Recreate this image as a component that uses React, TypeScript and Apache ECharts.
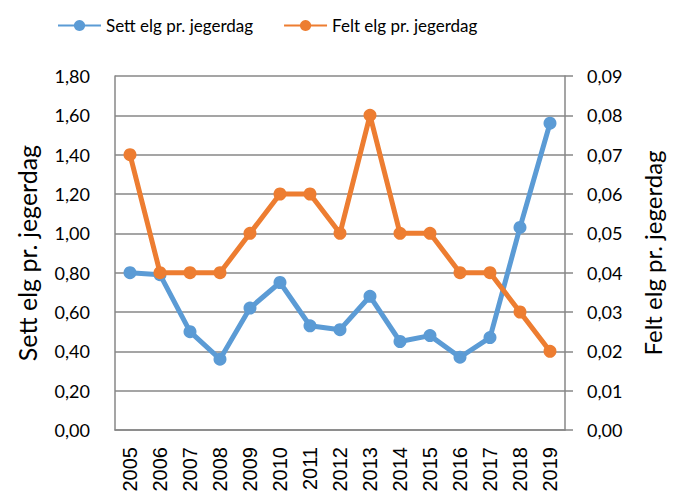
import React, { useEffect, useRef } from "react";
import * as echarts from "echarts";

const years = ["2005","2006","2007","2008","2009","2010","2011","2012","2013","2014","2015","2016","2017","2018","2019"];
const sett = [0.8, 0.79, 0.5, 0.36, 0.62, 0.75, 0.53, 0.51, 0.68, 0.45, 0.48, 0.37, 0.47, 1.03, 1.56];
const felt = [0.07, 0.04, 0.04, 0.04, 0.05, 0.06, 0.06, 0.05, 0.08, 0.05, 0.05, 0.04, 0.04, 0.03, 0.02];
const settName = "Sett elg pr. jegerdag";
const feltName = "Felt elg pr. jegerdag";

const FONT = "Lato";
const XFONT = "'Liberation Sans', Arial, sans-serif";
const GRID = "#878787";

export default function App() {
  const ref = useRef<HTMLDivElement>(null);
  useEffect(() => {
    if (!ref.current) return;
    const chart = echarts.init(ref.current, undefined, { renderer: "svg" });
    chart.setOption({
      animation: false,
      textStyle: { fontFamily: FONT, color: "#000" },
      legend: {
        top: 12,
        left: 52,
        itemWidth: 43,
        itemHeight: 14,
        itemGap: 30,
        textStyle: { fontFamily: FONT, fontSize: 17, color: "#000" },
        data: [settName, feltName],
      },
      grid: { left: 115, right: 108, top: 76, bottom: 67, containLabel: false },
      xAxis: {
        type: "category",
        data: years,
        boundaryGap: true,
        axisLine: { lineStyle: { color: GRID, width: 1.5 } },
        axisTick: { show: false },
        axisLabel: { rotate: 90, fontSize: 20, color: "#000", fontFamily: XFONT, margin: 17 },
      },
      yAxis: [
        {
          type: "value",
          min: 0,
          max: 1.8,
          interval: 0.2,
          name: settName,
          nameLocation: "middle",
          nameGap: 76,
          nameTextStyle: { fontSize: 25, color: "#000", fontFamily: FONT },
          axisLine: { show: true, lineStyle: { color: GRID, width: 1.5 } },
          axisTick: { show: false },
          splitLine: { show: true, lineStyle: { color: GRID, width: 1.5 } },
          axisLabel: {
            fontSize: 18,
            color: "#000",
            fontFamily: FONT,
            margin: 25,
            formatter: (v: number) => v.toFixed(2).replace(".", ","),
          },
        },
        {
          type: "value",
          min: 0,
          max: 0.09,
          interval: 0.01,
          name: feltName,
          nameLocation: "middle",
          nameGap: 75,
          nameTextStyle: { fontSize: 24, color: "#000", fontFamily: FONT },
          position: "right",
          axisLine: { show: true, lineStyle: { color: GRID, width: 1.5 } },
          axisTick: { show: true, length: 8, lineStyle: { color: GRID, width: 1.5 } },
          splitLine: { show: false },
          axisLabel: {
            fontSize: 18,
            color: "#000",
            fontFamily: FONT,
            margin: 22,
            formatter: (v: number) => v.toFixed(2).replace(".", ","),
          },
        },
      ],
      series: [
        {
          name: settName,
          type: "line",
          yAxisIndex: 0,
          data: sett,
          symbol: "circle",
          symbolSize: 13,
          lineStyle: { color: "#5B9BD5", width: 5 },
          itemStyle: { color: "#5B9BD5" },
          z: 2,
        },
        {
          name: feltName,
          type: "line",
          yAxisIndex: 1,
          data: felt,
          symbol: "circle",
          symbolSize: 13,
          lineStyle: { color: "#ED7D31", width: 5 },
          itemStyle: { color: "#ED7D31" },
          z: 3,
        },
      ],
    });
    return () => chart.dispose();
  }, []);
  return <div ref={ref} style={{ width: 673, height: 497, position: "absolute", left: 0, top: 0 }} />;
}
